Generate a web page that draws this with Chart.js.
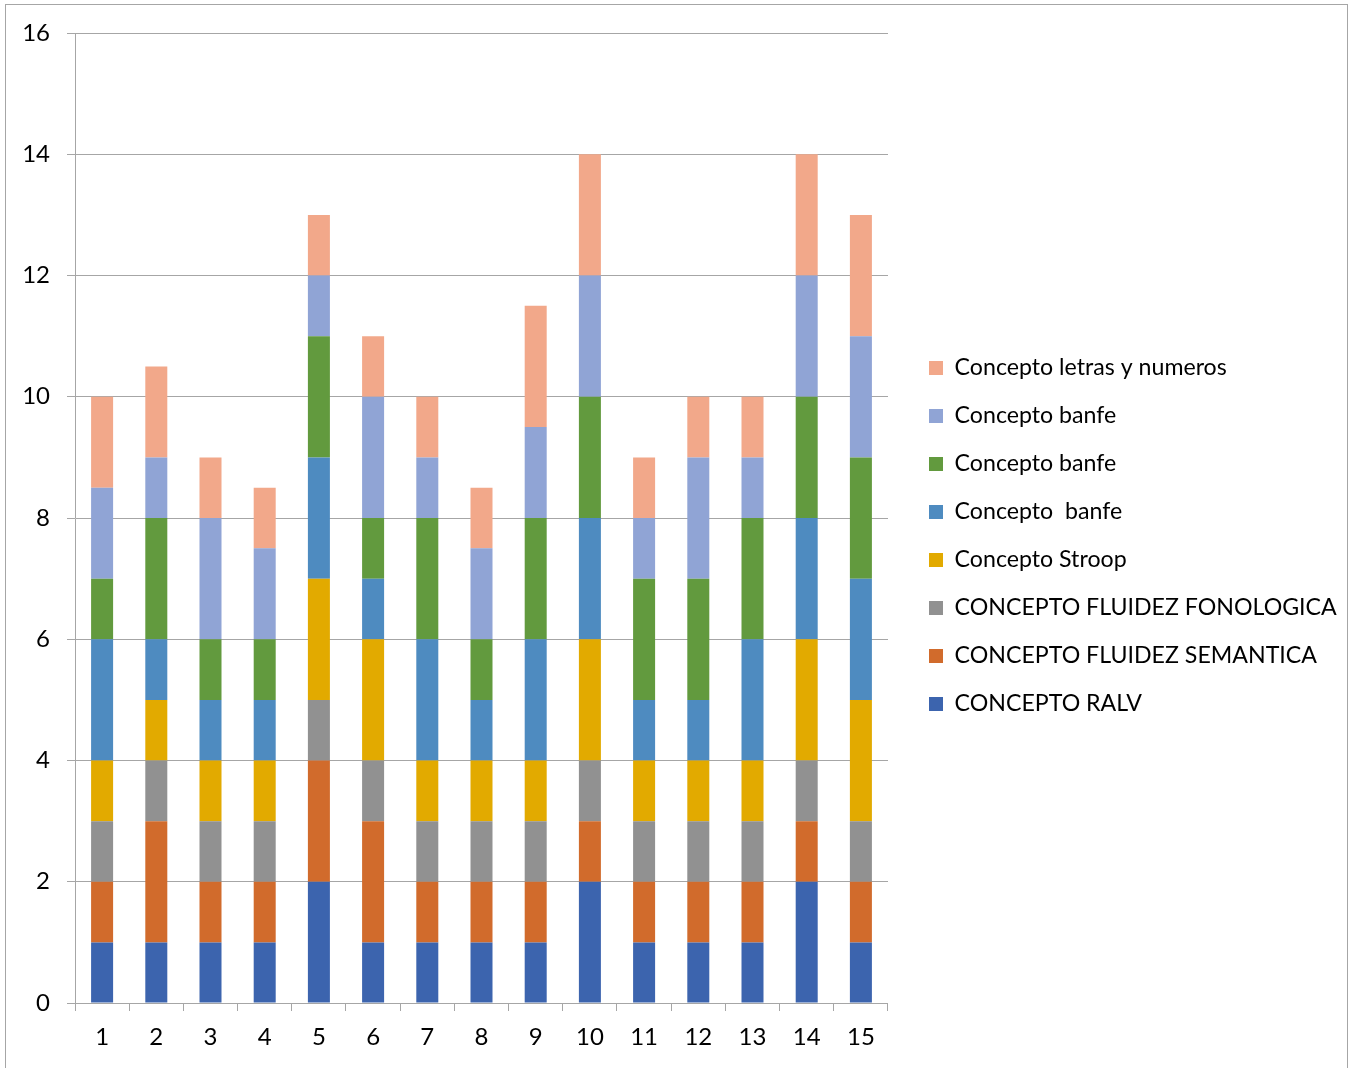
<!DOCTYPE html>
<html><head><meta charset="utf-8">
<script src="https://cdn.jsdelivr.net/npm/chart.js@4/dist/chart.umd.min.js"></script>
<style>
html,body{margin:0;padding:0;background:#fff;overflow:hidden}
#wrap{position:relative;width:1354px;height:1068px}
#frame{position:absolute;left:5px;top:4px;width:1343px;height:1090px;border:1px solid #a6a6a6;pointer-events:none;box-sizing:border-box}
canvas{position:absolute;left:0;top:0}
</style></head><body>
<div id="wrap"><canvas id="c" width="1354" height="1068"></canvas><div id="frame"></div></div>
<script>
const categories = ['1','2','3','4','5','6','7','8','9','10','11','12','13','14','15'];
const seriesNames = ['CONCEPTO RALV','CONCEPTO FLUIDEZ SEMANTICA','CONCEPTO FLUIDEZ FONOLOGICA','Concepto Stroop','Concepto  banfe','Concepto banfe','Concepto banfe','Concepto letras y numeros'];
const ralv              = [1,1,1,1,2,1,1,1,1,2,1,1,1,2,1];
const fluidezSemantica  = [1,2,1,1,2,2,1,1,1,1,1,1,1,1,1];
const fluidezFonologica = [1,1,1,1,1,1,1,1,1,1,1,1,1,1,1];
const stroop            = [1,1,1,1,2,2,1,1,1,2,1,1,1,2,2];
const banfeA            = [2,1,1,1,2,1,2,1,2,2,1,1,2,2,2];
const banfeB            = [1,2,1,1,2,1,2,1,2,2,2,2,2,2,2];
const banfeC            = [1.5,1,2,1.5,1,2,1,1.5,1.5,2,1,2,1,2,2];
const letrasNumeros     = [1.5,1.5,1,1,1,1,1,1,2,2,1,1,1,2,2];
const yTicks = [0,2,4,6,8,10,12,14,16];
const colors = ['#3C64AE','#D16B2C','#919191','#E2AA00','#4E8BC0','#629A3E','#90A4D5','#F2A88A'];

const seriesValues = [ralv,fluidezSemantica,fluidezFonologica,stroop,banfeA,banfeB,banfeC,letrasNumeros];
const FONT = 'Lato';
const grid = '#a6a6a6';

function build(){
  const mctx = document.createElement('canvas').getContext('2d');
  mctx.font = '22px ' + FONT;
  const wCaps = mctx.measureText('CONCEPTO FLUIDEZ FONOLOGICA').width;
  const wLow = mctx.measureText('Concepto letras y numeros').width;
  const ls = Math.max(16, Math.min(24, 22 * (366 + 289) / (wCaps + wLow)));   // legend font size
  mctx.font = ls + 'px ' + FONT;
  let W = 0; seriesNames.forEach(n => W = Math.max(W, mctx.measureText(n).width));
  const boxW = 14;
  const lp = 48 - ls;                 // legend padding -> row spacing 48
  const boxX = 929;
  const gap = boxX - lp - 888;        // dummy right axis width
  const colW = boxW + ls/2 + W;
  const legW = lp + colW + 10;
  const padRight = Math.max(0, 1354 - (boxX + colW + 10));

  new Chart(document.getElementById('c'), {
    type: 'bar',
    data: {
      labels: categories,
      datasets: seriesNames.map((n,i) => ({
        label: n, data: seriesValues[i], backgroundColor: colors[i],
        borderWidth: 0, barPercentage: 0.406, categoryPercentage: 1.0
      }))
    },
    options: {
      responsive: false, animation: false, devicePixelRatio: 1,
      layout: { padding: { left: 0, top: 9, bottom: 5, right: padRight } },
      plugins: {
        tooltip: { enabled: false },
        title: { display: true, text: ' ', font: { size: 10, lineHeight: 1 }, padding: { top: 0, bottom: 14 } },
        legend: {
          position: 'right', reverse: true, maxWidth: legW + 2,
          labels: { boxWidth: boxW, boxHeight: boxW, padding: lp, color: '#000',
                    font: { family: FONT, size: ls } }
        }
      },
      scales: {
        x: {
          stacked: true,
          grid: { display: true, offset: true, drawOnChartArea: false, drawTicks: true, tickLength: 8, color: grid, lineWidth: 1 },
          border: { display: true, color: grid, width: 1 },
          ticks: { color: '#000', padding: 12, font: { family: FONT, size: 24 }, maxRotation: 0 },
          afterFit: s => { s.height = 60; }
        },
        y: {
          stacked: true, min: 0, max: 16,
          afterBuildTicks: s => { s.ticks = yTicks.map(v => ({ value: v })); },
          grid: { color: grid, lineWidth: 1, tickLength: 8 },
          border: { display: true, color: grid, width: 1 },
          ticks: { color: '#000', padding: 17, font: { family: FONT, size: 24 } },
          afterFit: s => { s.width = 75; }
        },
        y2: {
          type: 'linear', position: 'right', display: true,
          grid: { display: false, drawTicks: false }, border: { display: false },
          ticks: { display: false },
          afterFit: s => { s.width = gap; }
        }
      }
    }
  });
}
if (document.fonts && document.fonts.load) {
  Promise.all([document.fonts.load('22px ' + FONT), document.fonts.load('24px ' + FONT)]).then(build, build);
} else build();
</script>
</body></html>
